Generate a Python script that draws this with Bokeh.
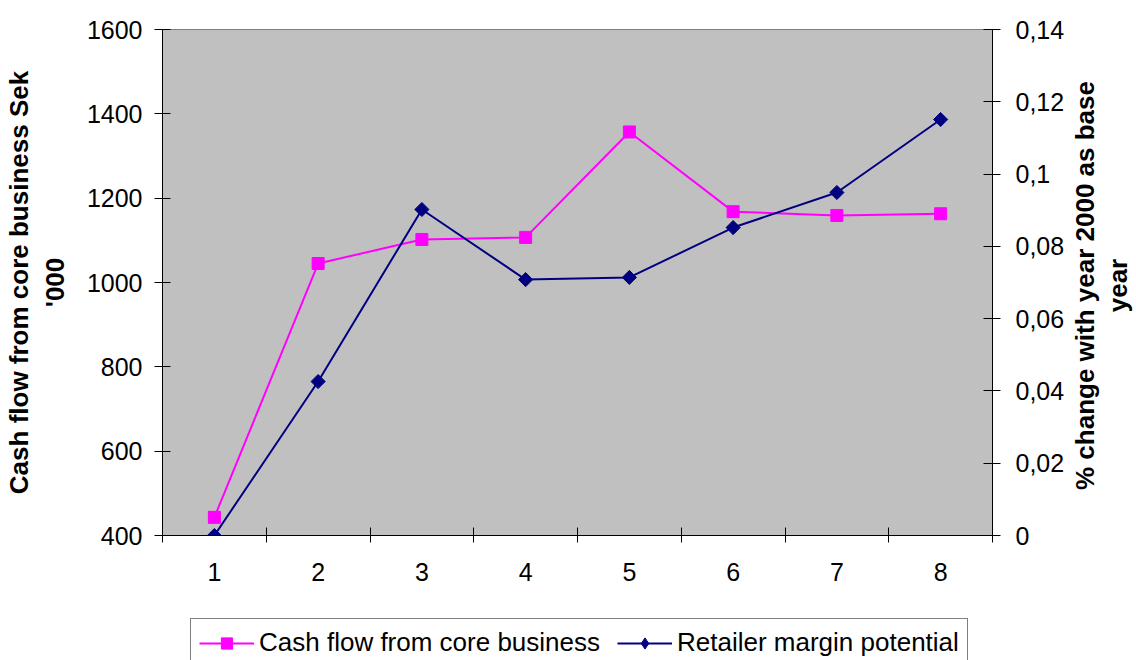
import math
from bokeh.plotting import figure
from bokeh.layouts import row, column
from bokeh.models import (Range1d, LinearAxis, FixedTicker, Legend, LegendItem, Label)
from bokeh.embed import file_html
from bokeh.resources import INLINE

periods = [1, 2, 3, 4, 5, 6, 7, 8]
period_labels = ["1", "2", "3", "4", "5", "6", "7", "8"]
cash_flow = [443, 1045, 1102, 1107, 1357, 1168, 1159, 1163]
retailer_margin = [0.0, 0.0426, 0.0902, 0.0708, 0.0714, 0.0852, 0.0949, 0.1151]
left_ticks = [400, 600, 800, 1000, 1200, 1400, 1600]
right_ticks = [0, 0.02, 0.04, 0.06, 0.08, 0.1, 0.12, 0.14]
right_tick_labels = ["0", "0,02", "0,04", "0,06", "0,08", "0,1", "0,12", "0,14"]
series_names = ["Cash flow from core business", "Retailer margin potential"]
left_title = "Cash flow from core business Sek\n'000"
right_title = "% change with year 2000 as base\nyear"

FONT = "Liberation Sans"
FS = "25px"
TS = "26px"
PINK = "#FF00FF"
NAVY = "#000080"

# ---------------- main chart ----------------
p = figure(width=1068, height=610, output_backend="svg", toolbar_location=None,
           x_range=Range1d(0.5, 8.5), y_range=Range1d(400, 1600),
           min_border_left=162, min_border_right=76, min_border_top=29,
           min_border_bottom=75, background_fill_color="#C0C0C0",
           border_fill_color="white", outline_line_color="#808080")
p.grid.visible = False
p.extra_y_ranges = {"pct": Range1d(0, 0.14)}

xa = p.xaxis[0]
xa.ticker = FixedTicker(ticks=periods, minor_ticks=[i + 0.5 for i in range(0, 9)])
xa.major_label_overrides = {k: v for k, v in zip(periods, period_labels)}
xa.minor_tick_in = 8
xa.minor_tick_out = 7
xa.major_tick_in = 0
xa.major_tick_out = 7
xa.major_label_standoff = 20

ya = p.yaxis[0]
ya.ticker = FixedTicker(ticks=left_ticks, minor_ticks=[])
ya.major_tick_in = 8
ya.major_tick_out = 8
ya.axis_label = left_title
ya.axis_label_standoff = 14
ya.major_label_standoff = 12

ra = LinearAxis(y_range_name="pct", ticker=FixedTicker(ticks=right_ticks, minor_ticks=[]))
ra.major_label_overrides = {k: v for k, v in zip(right_ticks, right_tick_labels)}
ra.major_tick_in = 9
ra.major_tick_out = 8
ra.major_label_standoff = 15
p.add_layout(ra, "right")

for ax in [xa, ya, ra]:
    ax.major_label_text_font = FONT
    ax.major_label_text_font_size = FS
    ax.major_label_text_color = "black"
    ax.axis_label_text_font = FONT
    ax.axis_label_text_font_size = TS
    ax.axis_label_text_font_style = "bold"
    ax.axis_label_text_color = "black"
    ax.axis_line_color = "black"
    ax.major_tick_line_color = "black" if ax is not xa else None
    ax.minor_tick_line_color = "black" if ax is xa else None

p.line(periods, cash_flow, line_color=PINK, line_width=2)
p.scatter(periods, cash_flow, marker="square", size=12, fill_color=PINK, line_color=PINK)
p.line(periods, retailer_margin, line_color=NAVY, line_width=2, y_range_name="pct")
p.scatter(periods, retailer_margin, marker="square", angle=math.pi / 4, size=10,
          fill_color=NAVY, line_color=NAVY, y_range_name="pct")

# ---------------- right-hand axis title (reads bottom to top) ----------------
q = figure(width=68, height=610, output_backend="svg", toolbar_location=None,
           x_range=Range1d(0, 1), y_range=Range1d(0, 1), x_axis_type=None, y_axis_type=None,
           min_border_left=0, min_border_right=0, min_border_top=29, min_border_bottom=75,
           outline_line_color=None, background_fill_color="white")
q.grid.visible = False
q.add_layout(Label(x=33, y=250, x_units="screen", y_units="screen", text=right_title,
                   angle=90, angle_units="deg", text_font=FONT, text_font_size=TS,
                   text_font_style="bold", text_color="black", text_line_height=1.1,
                   text_align="center", text_baseline="middle"))

# ---------------- legend strip ----------------
lf = figure(width=1136, height=60, output_backend="svg", toolbar_location=None,
            x_range=Range1d(100, 101), y_range=Range1d(100, 101),
            x_axis_type=None, y_axis_type=None,
            min_border_left=162, min_border_right=144, min_border_top=0, min_border_bottom=0,
            outline_line_color=None, background_fill_color="white")
lf.grid.visible = False
g1 = lf.line(periods, cash_flow, line_color=PINK, line_width=2)
s1 = lf.scatter(periods, cash_flow, marker="square", size=12, fill_color=PINK, line_color=PINK)
g2 = lf.line(periods, retailer_margin, line_color=NAVY, line_width=2)
s2 = lf.scatter(periods, retailer_margin, marker="diamond", size=12,
                fill_color=NAVY, line_color=NAVY)
legend = Legend(items=[LegendItem(label=series_names[0], renderers=[g1, s1]),
                       LegendItem(label=series_names[1], renderers=[g2, s2])],
                orientation="horizontal", location=(28, 3),
                label_text_font=FONT, label_text_font_size=TS, label_text_color="black",
                glyph_width=55, glyph_height=28, spacing=17, padding=8, margin=0,
                label_standoff=5, border_line_color="black", border_line_width=1,
                background_fill_alpha=1.0)
lf.add_layout(legend, "center")

layout = column(row(p, q, spacing=0), lf, spacing=0)
open("out.html", "w").write(file_html(layout, INLINE))
